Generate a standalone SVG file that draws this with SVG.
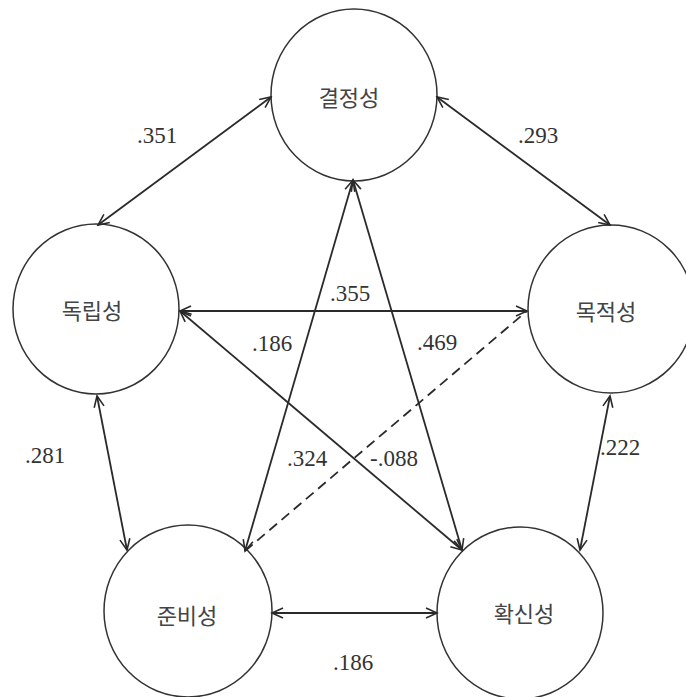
<svg xmlns="http://www.w3.org/2000/svg" width="686" height="697" viewBox="0 0 686 697">
<defs>
<marker id="arr" markerUnits="userSpaceOnUse" markerWidth="14" markerHeight="12" refX="12" refY="6" orient="auto-start-reverse" viewBox="0 0 14 12">
<path d="M1,1 L12,6 L1,11" fill="none" stroke="#2a2a2a" stroke-width="1.6"/>
</marker>
</defs>
<style>
.node{fill:#fff;stroke:#333;stroke-width:1.5}
.lbl{font-family:"Noto Sans CJK KR","Noto Sans",sans-serif;font-size:22px;fill:#444;text-anchor:middle;dominant-baseline:central}
.num{font-family:"Liberation Serif",serif;font-size:23px;fill:#333}
.ln{stroke:#2a2a2a;stroke-width:1.8;fill:none;marker-start:url(#arr);marker-end:url(#arr)}
.dash{stroke:#2a2a2a;stroke-width:1.8;fill:none;stroke-dasharray:10 6}
</style>
<rect width="686" height="697" fill="#fff"/>
<g id="node-gyeoljeong"><ellipse class="node" cx="354" cy="95" rx="83" ry="86"/><text class="lbl" x="349" y="96">결정성</text></g>
<g id="node-dongnip"><ellipse class="node" cx="96" cy="309" rx="83" ry="85"/><text class="lbl" x="92" y="309">독립성</text></g>
<g id="node-mokjeok"><ellipse class="node" cx="611" cy="309" rx="83" ry="84"/><text class="lbl" x="606" y="310">목적성</text></g>
<g id="node-junbi"><ellipse class="node" cx="188" cy="611" rx="84" ry="86"/><text class="lbl" x="187" y="614">준비성</text></g>
<g id="node-hwaksin"><ellipse class="node" cx="520" cy="613" rx="83" ry="86"/><text class="lbl" x="524" y="612">확신성</text></g>
<g id="connectors">
<line class="ln" x1="271" y1="97" x2="98" y2="225"/>
<line class="ln" x1="437" y1="97" x2="610" y2="225"/>
<line class="ln" x1="180" y1="311" x2="527" y2="311"/>
<line class="ln" x1="180" y1="311" x2="462" y2="550"/>
<line class="ln" x1="353" y1="180" x2="245" y2="551"/>
<line class="ln" x1="353" y1="180" x2="462" y2="550"/>
<line class="dash" x1="245" y1="551" x2="527" y2="311"/>
<line class="ln" x1="97" y1="396" x2="127" y2="550"/>
<line class="ln" x1="610" y1="396" x2="580" y2="550"/>
<line class="ln" x1="272" y1="613" x2="437" y2="613"/>
</g>
<g id="labels">
<text class="num" x="137" y="143">.351</text>
<text class="num" x="518" y="143">.293</text>
<text class="num" x="330" y="301">.355</text>
<text class="num" x="252" y="351">.186</text>
<text class="num" x="417" y="350">.469</text>
<text class="num" x="287" y="466">.324</text>
<text class="num" x="370" y="466">-.088</text>
<text class="num" x="25" y="463">.281</text>
<text class="num" x="600" y="455">.222</text>
<text class="num" x="333" y="670">.186</text>
</g>
</svg>
